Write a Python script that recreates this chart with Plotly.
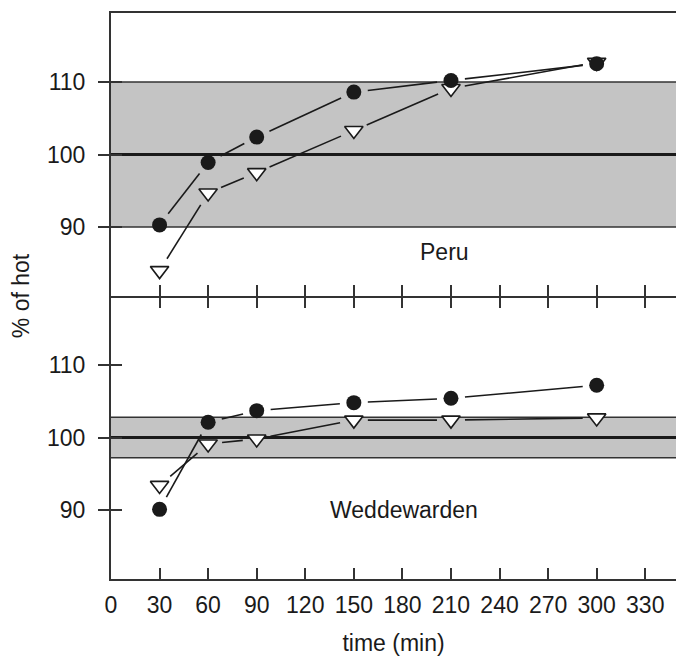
import math
import plotly.graph_objects as go

# ---------------- data ----------------
time_min = [30, 60, 90, 150, 210, 300]
peru_circle = [90.3, 98.9, 102.4, 108.6, 110.2, 112.5]
peru_triangle = [84.0, 94.7, 97.5, 103.3, 109.1, 112.7]
wedd_circle = [90.1, 102.1, 103.7, 104.8, 105.4, 107.2]
wedd_triangle = [93.4, 99.1, 99.8, 102.4, 102.4, 102.7]
x_tick_vals = list(range(0, 331, 30))
y_tick_vals = [90, 100, 110]
peru_band = [90, 110]
wedd_band = [97.2, 102.8]
reference_value = 100
panel_names = ["Peru", "Weddewarden"]
label_pos_peru = [206, 86.5]
label_pos_wedd = [181, 90]

# ---------------- layout constants ----------------
W, H = 676, 656
ML, MR, MT, MB = 111, 0, 13, 77
X_RANGE = [0, 349]
Y_RANGE = [80.5, 119.5]
FONT = "Liberation Sans, Arial, sans-serif"
FS = 23
INK = "#1a1a1a"
AX = "#333333"
BAND = "#c4c4c4"

plot_w = W - ML - MR
panel_h = (H - MT - MB) / 2.0
sx = plot_w / (X_RANGE[1] - X_RANGE[0])
sy = panel_h / (Y_RANGE[1] - Y_RANGE[0])
GAP = 14  # px gap between line ends and marker centers


def gapped(xs, ys, gap=GAP):
    """Segments between points, shortened in pixel space so they stop short of markers."""
    gx, gy = [], []
    for i in range(len(xs) - 1):
        x0, y0, x1, y1 = xs[i], ys[i], xs[i + 1], ys[i + 1]
        dx, dy = (x1 - x0) * sx, (y1 - y0) * sy
        d = math.hypot(dx, dy)
        if d <= 2 * gap:
            continue
        f = gap / d
        gx += [x0 + (x1 - x0) * f, x1 - (x1 - x0) * f, None]
        gy += [y0 + (y1 - y0) * f, y1 - (y1 - y0) * f, None]
    return gx, gy


fig = go.Figure()


def add_panel(xa, ya, circ, tri):
    for ys in (circ, tri):
        lx, ly = gapped(time_min, ys)
        fig.add_trace(go.Scatter(x=lx, y=ly, mode="lines", xaxis=xa, yaxis=ya,
                                 line=dict(color=INK, width=1.6), showlegend=False,
                                 hoverinfo="skip"))
    fig.add_trace(go.Scatter(x=time_min, y=tri, mode="markers", xaxis=xa, yaxis=ya,
                             marker=dict(symbol="triangle-down", size=16, color="white",
                                         line=dict(color=INK, width=1.6)),
                             showlegend=False))
    fig.add_trace(go.Scatter(x=time_min, y=circ, mode="markers", xaxis=xa, yaxis=ya,
                             marker=dict(symbol="circle", size=15, color=INK,
                                         line=dict(color=INK, width=0)),
                             showlegend=False))


add_panel("x", "y", peru_circle, peru_triangle)
add_panel("x2", "y2", wedd_circle, wedd_triangle)
# invisible traces that activate the overlay axes used for the extra tick marks
fig.add_trace(go.Scatter(x=[None], y=[None], xaxis="x", yaxis="y3", showlegend=False))
fig.add_trace(go.Scatter(x=[None], y=[None], xaxis="x2", yaxis="y4", showlegend=False))
fig.add_trace(go.Scatter(x=[None], y=[None], xaxis="x3", yaxis="y2", showlegend=False))

shapes = []
for xr, yr, band in (("x", "y", peru_band), ("x2", "y2", wedd_band)):
    shapes.append(dict(type="rect", xref=f"{xr} domain", yref=yr, x0=0, x1=1,
                       y0=band[0], y1=band[1], fillcolor=BAND, line=dict(width=0),
                       layer="below"))
    for v in band:
        shapes.append(dict(type="line", xref=f"{xr} domain", yref=yr, x0=0, x1=1,
                           y0=v, y1=v, line=dict(color=AX, width=1.5), layer="below"))
    shapes.append(dict(type="line", xref=f"{xr} domain", yref=yr, x0=0, x1=1,
                       y0=reference_value, y1=reference_value,
                       line=dict(color=INK, width=3.2), layer="below"))

tickfont = dict(family=FONT, size=FS, color=INK)
xcommon = dict(range=X_RANGE, tickvals=x_tick_vals, showgrid=False, zeroline=False,
               showline=True, linecolor=AX, linewidth=2, ticks="inside", ticklen=11,
               tickwidth=1.8, tickcolor=AX, tickfont=tickfont)
ycommon = dict(range=Y_RANGE, tickvals=y_tick_vals, showgrid=False, zeroline=False,
               showline=True, linecolor=AX, linewidth=2, ticks="outside", ticklen=11,
               tickwidth=1.8, tickcolor=AX, tickfont=tickfont, ticklabelstandoff=8)
yinside = dict(range=Y_RANGE, tickvals=y_tick_vals, showgrid=False, zeroline=False,
               showline=False, ticks="inside", ticklen=11, tickwidth=1.8, tickcolor=AX,
               showticklabels=False)

fig.update_layout(
    width=W, height=H,
    margin=dict(l=ML, r=MR, t=MT, b=MB, pad=0),
    paper_bgcolor="white", plot_bgcolor="white",
    font=dict(family=FONT, size=FS, color=INK),
    xaxis=dict(**xcommon, anchor="y", mirror=True, showticklabels=False),
    yaxis=dict(**ycommon, domain=[0.5, 1], anchor="x"),
    xaxis2=dict(**xcommon, anchor="y2", showticklabels=True, ticklabelstandoff=4,
                title=dict(text="time (min)", font=dict(family=FONT, size=FS, color=INK),
                           standoff=20)),
    xaxis3=dict(range=X_RANGE, tickvals=x_tick_vals, overlaying="x2", anchor="y2",
                side="top", showgrid=False, zeroline=False, showline=False,
                ticks="inside", ticklen=12, tickwidth=1.8, tickcolor=AX,
                showticklabels=False),
    yaxis2=dict(**ycommon, domain=[0, 0.5], anchor="x2"),
    yaxis3=dict(**yinside, overlaying="y", anchor="x"),
    yaxis4=dict(**yinside, overlaying="y2", anchor="x2"),
    shapes=shapes,
    annotations=[
        dict(text=panel_names[0], x=label_pos_peru[0], y=label_pos_peru[1], xref="x", yref="y",
             showarrow=False, font=dict(family=FONT, size=FS, color=INK)),
        dict(text=panel_names[1], x=label_pos_wedd[0], y=label_pos_wedd[1], xref="x2", yref="y2",
             showarrow=False, font=dict(family=FONT, size=FS, color=INK)),
        dict(text="% of hot", xref="paper", yref="paper", x=-0.159, y=0.5,
             xanchor="center", yanchor="middle", textangle=-90, showarrow=False,
             font=dict(family=FONT, size=FS, color=INK)),
    ],
)

fig.write_html("out.html")
